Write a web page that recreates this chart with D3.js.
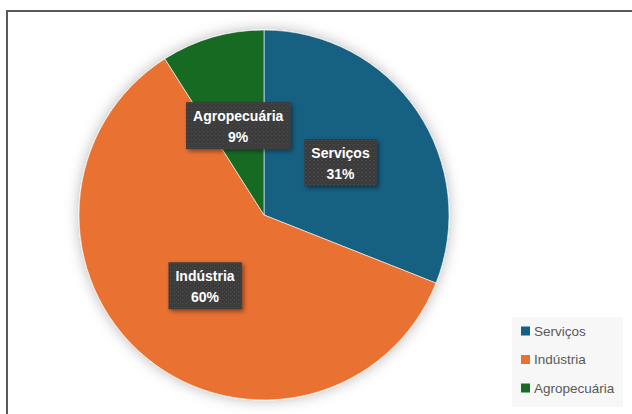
<!DOCTYPE html>
<html>
<head>
<meta charset="utf-8">
<script src="https://cdn.jsdelivr.net/npm/d3@7"></script>
<style>
  html, body { margin: 0; padding: 0; background: #ffffff; }
  svg { display: block; }
</style>
</head>
<body>
<svg id="chart" width="632" height="414"></svg>
<script>
// Sector shares of the economy
const categories = ["Serviços", "Indústria", "Agropecuária"];
const shares = [31, 60, 9];
const sliceColors = ["#156082", "#E97132", "#196B24"];

const svg = d3.select("#chart");
const W = 632, H = 414;

const defs = svg.append("defs");

// soft halo around the pie
const halo = defs.append("filter").attr("id", "halo")
  .attr("x", "-20%").attr("y", "-20%").attr("width", "140%").attr("height", "140%");
halo.append("feDropShadow").attr("dx", 0).attr("dy", 0)
  .attr("stdDeviation", 7).attr("flood-color", "#000").attr("flood-opacity", 0.28);

// shadow for the data label boxes
const boxShadow = defs.append("filter").attr("id", "boxShadow")
  .attr("x", "-20%").attr("y", "-30%").attr("width", "150%").attr("height", "170%");
boxShadow.append("feDropShadow").attr("dx", 2).attr("dy", 2)
  .attr("stdDeviation", 2).attr("flood-color", "#000").attr("flood-opacity", 0.45);

// dotted texture for the label boxes
const dots = defs.append("pattern").attr("id", "dots")
  .attr("width", 4).attr("height", 4).attr("patternUnits", "userSpaceOnUse");
dots.append("rect").attr("width", 4).attr("height", 4).attr("fill", "#3b3b3b");
dots.append("rect").attr("x", 1).attr("y", 1).attr("width", 1).attr("height", 1).attr("fill", "#555555");
dots.append("rect").attr("x", 3).attr("y", 3).attr("width", 1).attr("height", 1).attr("fill", "#4a4a4a");

// chart frame
svg.append("rect")
  .attr("x", 7).attr("y", 11).attr("width", W + 20).attr("height", H + 20)
  .attr("fill", "#ffffff").attr("stroke", "#595959").attr("stroke-width", 2);

const cx = 264, cy = 215, r = 185;

const pie = d3.pie().sort(null).value(d => d)(shares);
const arc = d3.arc().innerRadius(0).outerRadius(r);
const labelArc = d3.arc().innerRadius(r * 0.5).outerRadius(r * 0.5);

const g = svg.append("g").attr("transform", `translate(${cx},${cy})`);

g.append("g").attr("filter", "url(#halo)")
  .selectAll("path").data(pie).join("path")
  .attr("d", arc)
  .attr("fill", (d, i) => sliceColors[i])
  .attr("stroke", "#ffffff").attr("stroke-width", 0.6);

const total = d3.sum(shares);
const labels = g.append("g").selectAll("g").data(pie).join("g")
  .attr("transform", d => `translate(${labelArc.centroid(d)})`);

labels.each(function(d, i) {
  const grp = d3.select(this);
  const t = grp.append("text")
    .attr("text-anchor", "middle")
    .attr("font-family", "'Liberation Sans', Arial, sans-serif")
    .attr("font-weight", "bold")
    .attr("font-size", 14)
    .attr("fill", "#ffffff");
  t.append("tspan").attr("x", 0).attr("y", -5).text(categories[i]);
  t.append("tspan").attr("x", 0).attr("y", 16)
    .text(Math.round(d.value / total * 100) + "%");
  const bb = t.node().getBBox();
  const padX = 7;
  grp.insert("rect", "text")
    .attr("x", bb.x - padX).attr("y", -24)
    .attr("width", bb.width + padX * 2).attr("height", 47)
    .attr("fill", "url(#dots)")
    .attr("filter", "url(#boxShadow)");
});

// legend
const legend = svg.append("g").attr("transform", "translate(512,317)");
legend.append("rect")
  .attr("width", 111).attr("height", 90)
  .attr("fill", "#f7f7f7");
const items = legend.selectAll("g.item").data(categories).join("g")
  .attr("class", "item")
  .attr("transform", (d, i) => `translate(9,${14 + i * 28.5})`);
items.append("rect")
  .attr("x", 0).attr("y", -4.5).attr("width", 9).attr("height", 9)
  .attr("fill", (d, i) => sliceColors[i]);
items.append("text")
  .attr("x", 13).attr("y", 0).attr("dy", "0.36em")
  .attr("font-family", "'Liberation Sans', Arial, sans-serif")
  .attr("font-size", 13.5)
  .attr("fill", "#595959")
  .text(d => d);
</script>
</body>
</html>
